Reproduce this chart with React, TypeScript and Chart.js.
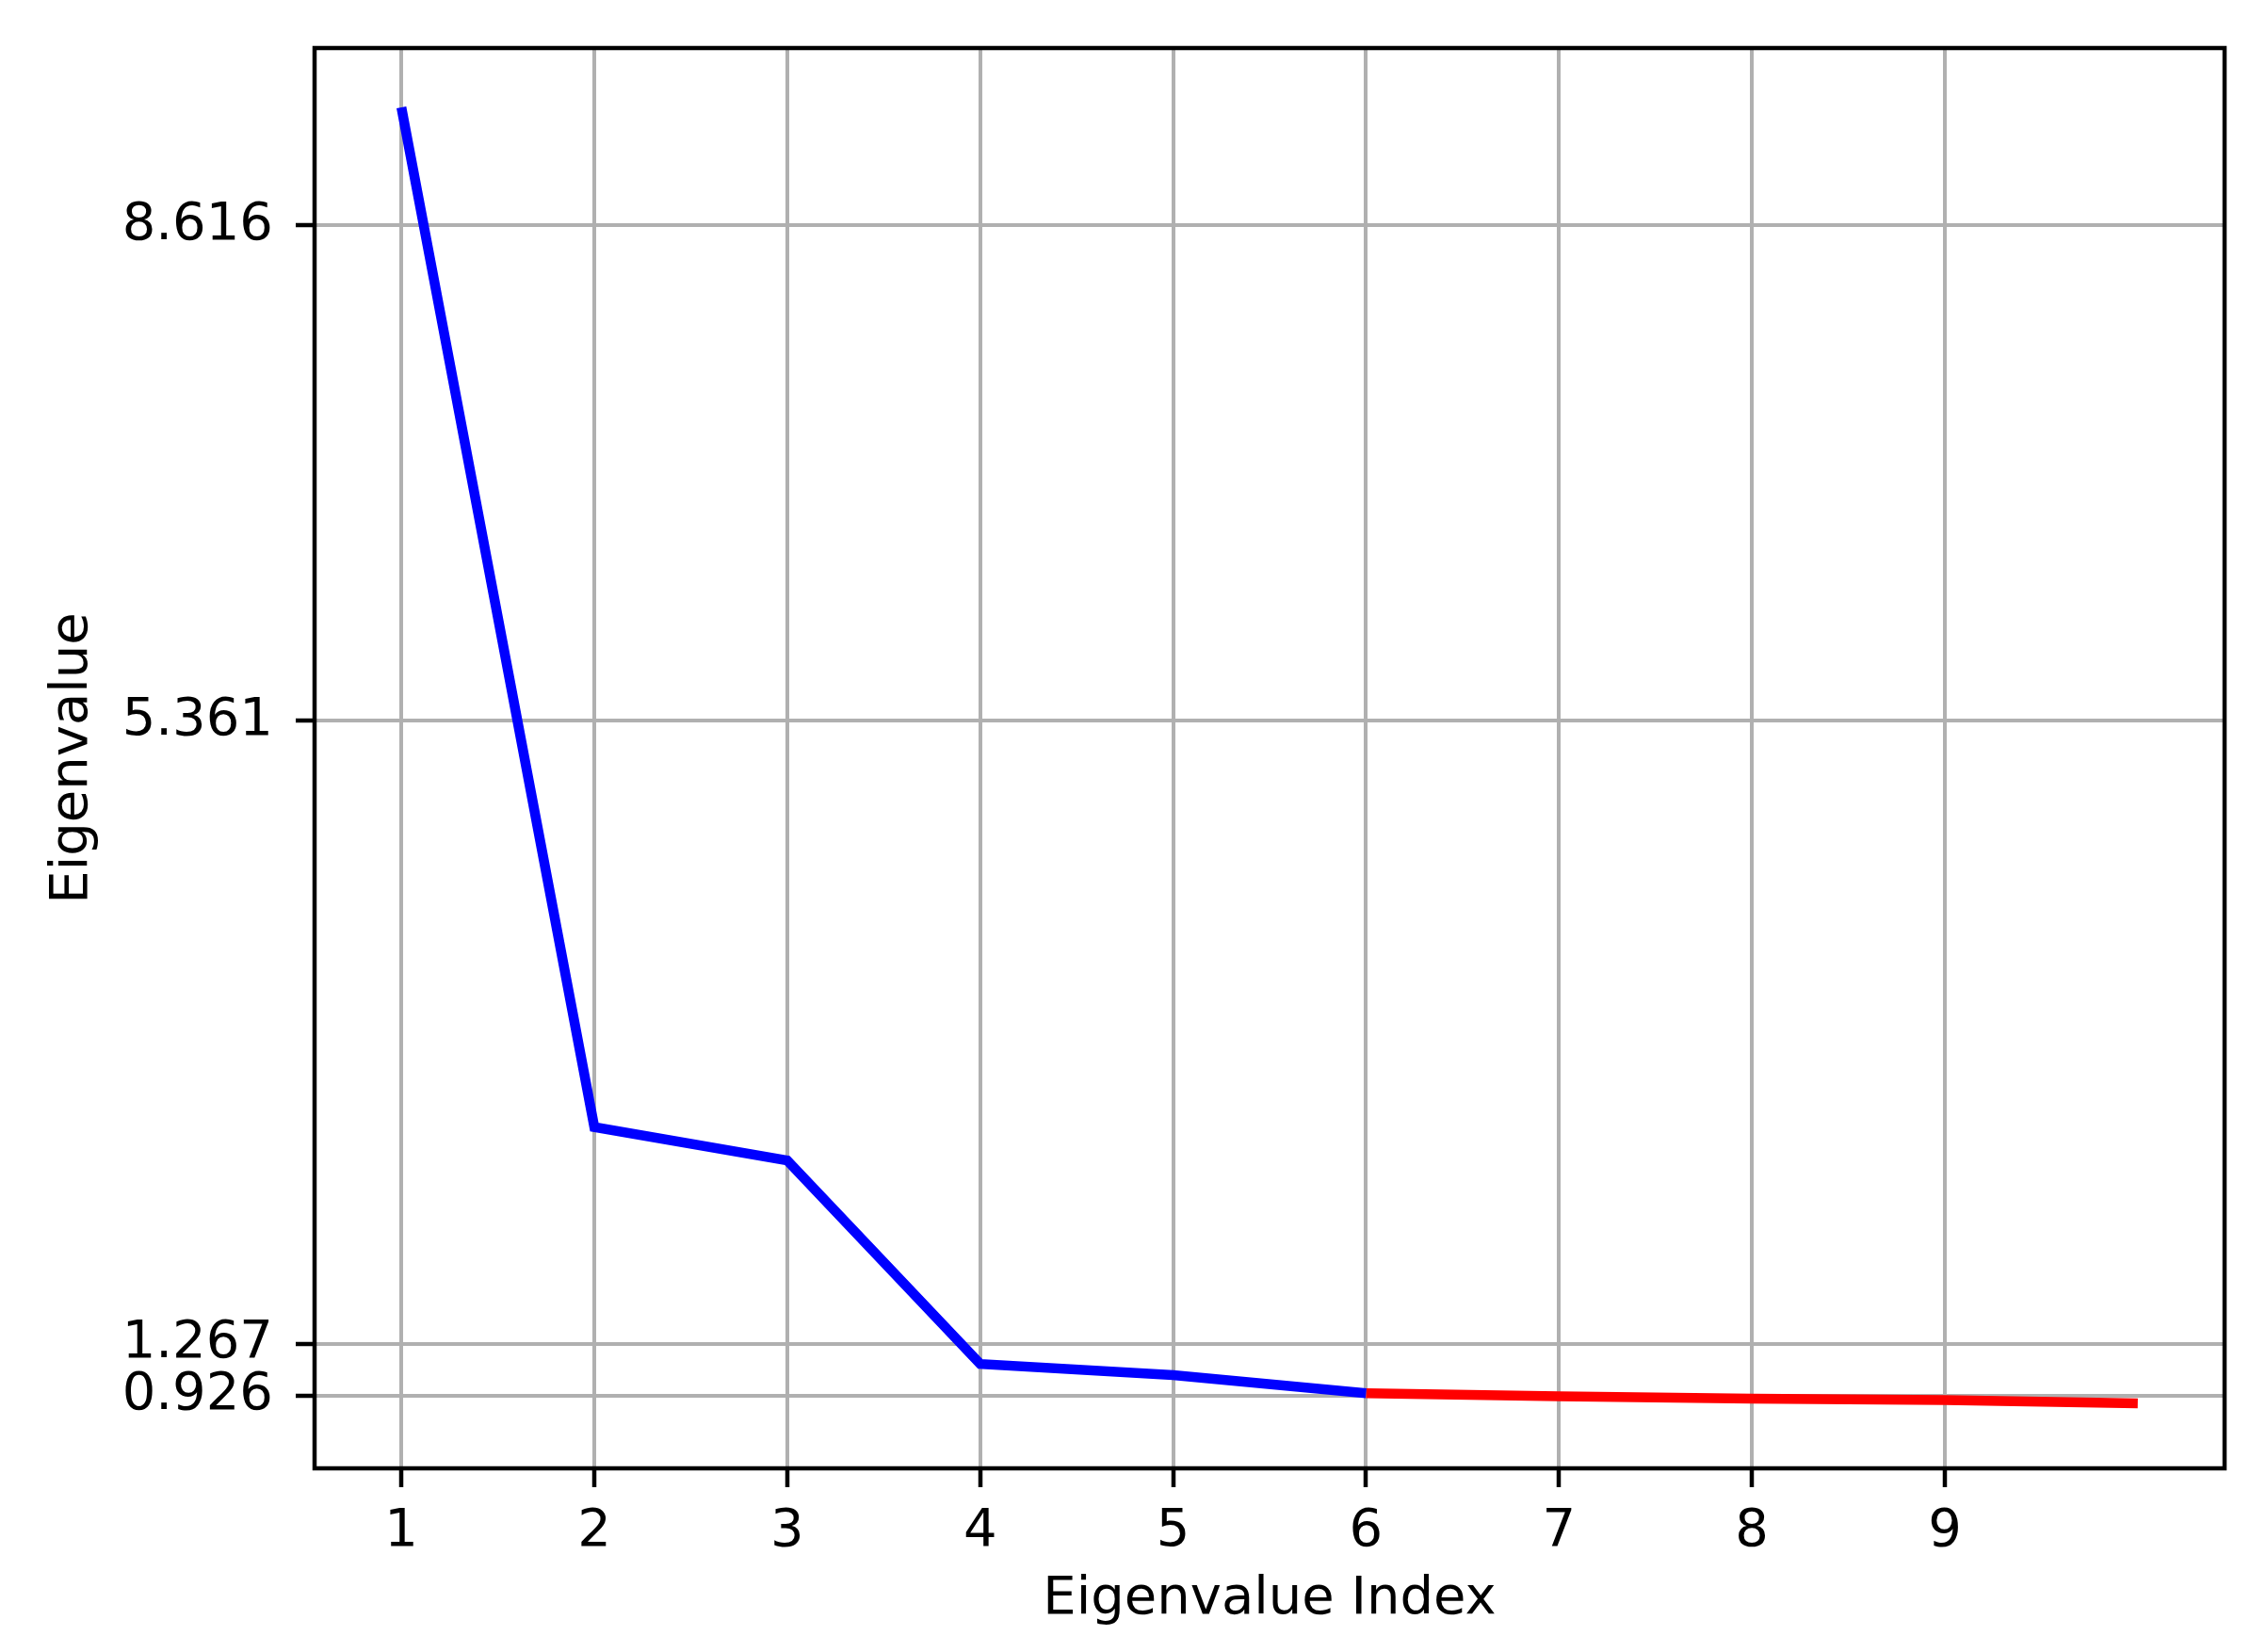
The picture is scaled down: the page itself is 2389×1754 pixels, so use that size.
import React, { useEffect, useRef } from "react";
import { Chart, registerables } from "chart.js";

Chart.register(...registerables);

const blueX = [1, 2, 3, 4, 5, 6];
const blueY = [9.39, 2.69, 2.47, 1.133, 1.06, 0.941];
const redX = [6, 7, 8, 9, 10];
const redY = [0.941, 0.92, 0.905, 0.895, 0.874];
const yTickValues = [0.926, 1.267, 5.361, 8.616];
const xTickValues = [1, 2, 3, 4, 5, 6, 7, 8, 9];
const xTitle = "Eigenvalue Index";
const yTitle = "Eigenvalue";

const W = 2389;
const H = 1754;
const PLOT_LEFT = 334;
const PLOT_RIGHT = 2362;
const PLOT_TOP = 51;
const PLOT_BOTTOM = 1559;
const LINE_W = 10.5;
const FONT = "'DejaVu Sans', sans-serif";
const FS = 56;

const frame = {
  id: "frame",
  afterDraw(chart: any) {
    const { ctx, chartArea } = chart;
    ctx.save();
    ctx.strokeStyle = "#000";
    ctx.lineWidth = 4.5;
    ctx.strokeRect(chartArea.left, chartArea.top, chartArea.right - chartArea.left, chartArea.bottom - chartArea.top);
    ctx.restore();
  },
};

export default function App() {
  const ref = useRef<HTMLCanvasElement | null>(null);
  useEffect(() => {
    document.body.style.margin = "0";
    const canvas = ref.current!;
    const chart = new Chart(canvas, {
      type: "line",
      data: {
        datasets: [
          {
            data: blueX.map((x, i) => ({ x, y: blueY[i] })),
            borderColor: "#0000ff",
            borderWidth: LINE_W,
            pointRadius: 0,
            fill: false,
            tension: 0,
            clip: false,
          },
          {
            data: redX.map((x, i) => ({ x, y: redY[i] })),
            borderColor: "#ff0000",
            borderWidth: LINE_W,
            pointRadius: 0,
            fill: false,
            tension: 0,
            clip: false,
          },
        ],
      },
      plugins: [frame],
      options: {
        animation: false,
        responsive: false,
        devicePixelRatio: 1,
        layout: { padding: { left: 0, top: PLOT_TOP, right: W - PLOT_RIGHT, bottom: 0 } },
        plugins: { legend: { display: false }, tooltip: { enabled: false } },
        scales: {
          x: {
            type: "linear",
            min: 0.55,
            max: 10.45,
            afterFit: (s: any) => { s.height = H - PLOT_BOTTOM; s.paddingLeft = 0; s.paddingRight = 0; },
            afterBuildTicks: (s: any) => { s.ticks = xTickValues.map((v) => ({ value: v })); },
            ticks: {
              color: "#000",
              font: { family: FONT, size: FS },
              padding: 14,
              maxRotation: 0,
              autoSkip: false,
              callback: (v: any) => String(v),
            },
            grid: { color: "#b0b0b0", lineWidth: 4, tickColor: "#000", tickLength: 20, tickWidth: 4.5 },
            border: { display: false },
            title: {
              display: true,
              text: xTitle,
              color: "#000",
              font: { family: FONT, size: FS },
              padding: { top: 0, bottom: 22 },
            },
          },
          y: {
            type: "linear",
            min: 0.447,
            max: 9.78,
            afterFit: (s: any) => { s.width = PLOT_LEFT; s.paddingTop = 0; s.paddingBottom = 0; },
            afterBuildTicks: (s: any) => { s.ticks = yTickValues.map((v) => ({ value: v })); },
            ticks: {
              color: "#000",
              font: { family: FONT, size: FS },
              padding: 24,
              autoSkip: false,
              callback: (v: any) => Number(v).toFixed(3),
            },
            grid: { color: "#b0b0b0", lineWidth: 4, tickColor: "#000", tickLength: 20, tickWidth: 4.5 },
            border: { display: false },
            title: {
              display: true,
              text: yTitle,
              color: "#000",
              font: { family: FONT, size: FS },
              padding: { top: 44, bottom: 0 },
            },
          },
        },
      },
    });
    return () => chart.destroy();
  }, []);
  return (
    <div style={{ position: "absolute", left: 0, top: 0, width: W, height: H, background: "#fff" }}>
      <canvas ref={ref} width={W} height={H} style={{ width: W, height: H, display: "block" }} />
    </div>
  );
}
